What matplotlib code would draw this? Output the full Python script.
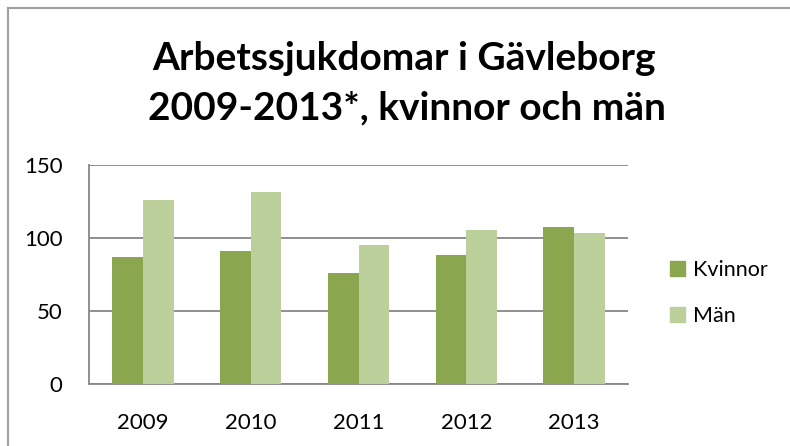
import matplotlib
matplotlib.use("Agg")
import matplotlib.pyplot as plt
import numpy as np
from matplotlib.patches import Patch
from matplotlib.lines import Line2D

years = ["2009", "2010", "2011", "2012", "2013"]
kvinnor = [87, 91, 76, 88, 107]
man = [126, 131, 95, 105, 103]
series_names = ["Kvinnor", "Män"]
title_lines = ["Arbetssjukdomar i Gävleborg", "2009-2013*, kvinnor och män"]
yticks = [0, 50, 100, 150]

c_k = "#8aa64f"
c_m = "#bbd09a"
grid_c = "#878787"

plt.rcParams["font.family"] = ["Lato", "DejaVu Sans"]

W, H = 790, 446
fig = plt.figure(figsize=(W / 100, H / 100), dpi=100)
ax = fig.add_axes([89 / W, 1 - 383.7 / H, (628 - 89) / W, (383.7 - 164.7) / H])

x = np.arange(len(years))
w = 0.285
ax.bar(x - w / 2, kvinnor, width=w, color=c_k, label=series_names[0], zorder=3)
ax.bar(x + w / 2, man, width=w, color=c_m, label=series_names[1], zorder=3)

ax.set_xlim(-0.5, len(years) - 0.5)
ax.set_ylim(0, 150)
ax.set_yticks(yticks)
ax.set_yticklabels([str(v) for v in yticks])
ax.set_xticks(x)
ax.set_xticklabels(years)
ax.yaxis.grid(True, color=grid_c, linewidth=1.3, zorder=0)
ax.set_axisbelow(True)
for s in ["top", "right"]:
    ax.spines[s].set_visible(False)
for s in ["left", "bottom"]:
    ax.spines[s].set_color(grid_c)
    ax.spines[s].set_linewidth(1.3)
ax.tick_params(axis="both", length=0, labelsize=16, colors="black")
ax.tick_params(axis="y", pad=19)
ax.tick_params(axis="x", pad=21)

fig.text(404 / W, 1 - 70 / H, title_lines[0], ha="center", va="baseline",
         fontsize=28, fontweight="bold")
fig.text(407 / W, 1 - 119 / H, title_lines[1], ha="center", va="baseline",
         fontsize=28, fontweight="bold")

handles = [Patch(color=c_k), Patch(color=c_m)]
fig.legend(handles, series_names, loc="center left",
           bbox_to_anchor=(670 / W, 1 - 293 / H), frameon=False, borderpad=0,
           borderaxespad=0, fontsize=15.5, handlelength=0.7, handleheight=0.7,
           handletextpad=0.35, labelspacing=1.2)

# chart border (left and top visible)
fig.add_artist(Line2D([7.5 / W, 7.5 / W], [0, 1 - 7.5 / H], color="#a0a0a0",
                      linewidth=1.5, transform=fig.transFigure))
fig.add_artist(Line2D([7.5 / W, 1], [1 - 7.5 / H, 1 - 7.5 / H], color="#a0a0a0",
                      linewidth=1.5, transform=fig.transFigure))

fig.savefig("out.png", dpi=100)
